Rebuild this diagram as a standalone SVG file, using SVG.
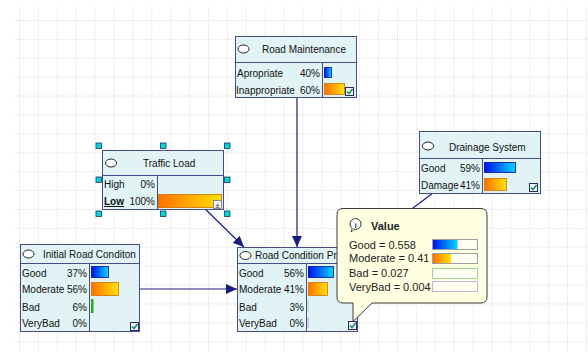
<svg xmlns="http://www.w3.org/2000/svg" width="588" height="352" viewBox="0 0 588 352">
<defs>
<pattern id="grid" width="18.9" height="18.9" patternUnits="userSpaceOnUse" x="19" y="20">
<path d="M0,0.5 H18.9 M0.5,0 V18.9" stroke="#e0e0e0" stroke-width="1" stroke-dasharray="1 1" fill="none"/>
</pattern>
<linearGradient id="blue" x1="0" y1="0" x2="1" y2="0"><stop offset="0" stop-color="#0010ee"/><stop offset="1" stop-color="#00d8ff"/></linearGradient>
<linearGradient id="orange" x1="0" y1="0" x2="1" y2="0"><stop offset="0" stop-color="#ff7000"/><stop offset="1" stop-color="#ffe400"/></linearGradient>
<marker id="arr" markerWidth="12" markerHeight="10" refX="11" refY="5" orient="auto" markerUnits="userSpaceOnUse"><path d="M0,0 L11,5 L0,10 z" fill="#1c1c80"/></marker>
<g id="chk"><rect x="0.5" y="0.5" width="8" height="8" fill="#eef4ff" stroke="#2a2a60"/><path d="M2,4.5 L4,6.5 L7.5,2" stroke="#169060" stroke-width="1.6" fill="none"/></g>
<clipPath id="rcclip"><rect x="237" y="247" width="100" height="16"/></clipPath>
</defs>
<style>
.box{fill:#e2f3f6;stroke:#4a4a88;stroke-width:1}
.ln{stroke:#4a4a88;stroke-width:1}
.t{font-family:"Liberation Sans",Arial,sans-serif;font-size:10px;fill:#111}
.r{text-anchor:end}
.tt{font-family:"Liberation Sans",Arial,sans-serif;font-size:11px;fill:#222}
.el{fill:#fff;stroke:#222;stroke-width:1}
.bb{fill:url(#blue);stroke:#0a0aa0;stroke-width:0.8}
.ob{fill:url(#orange);stroke:#d07000;stroke-width:0.8}
.conn{stroke:#1c1c80;stroke-width:1.2;fill:none}
.h{fill:#00d4dc;stroke:#1a3a5a;stroke-width:0.8}
</style>
<rect x="0" y="0" width="588" height="352" fill="#fff"/>
<rect x="14" y="6" width="574" height="346" fill="url(#grid)"/>

<g id="connectors">
<line class="conn" x1="297" y1="97" x2="297" y2="247" marker-end="url(#arr)"/>
<line class="conn" x1="199" y1="203" x2="244" y2="247" marker-end="url(#arr)"/>
<line class="conn" x1="139" y1="289" x2="237" y2="289" marker-end="url(#arr)"/>
<line class="conn" x1="433" y1="193" x2="357" y2="250" marker-end="url(#arr)"/>
</g>

<g id="road-maintenance">
<rect class="box" x="235.5" y="36.5" width="121" height="61"/>
<line class="ln" x1="235" y1="62.5" x2="357" y2="62.5"/>
<line class="ln" x1="322.5" y1="62" x2="322.5" y2="97"/>
<ellipse class="el" cx="243.5" cy="49" rx="5.5" ry="4"/>
<text class="t" x="262" y="52.5">Road Maintenance</text>
<text class="t" x="237" y="76.5">Apropriate</text><text class="t r" x="320" y="76.5">40%</text>
<text class="t" x="236" y="93.5">Inappropriate</text><text class="t r" x="320" y="93.5">60%</text>
<rect class="bb" x="324.5" y="67.5" width="7" height="10"/>
<rect class="ob" x="324.5" y="83.5" width="20" height="11"/>
<use href="#chk" x="345" y="87"/>
</g>

<g id="traffic-load">
<rect class="box" x="102.5" y="150.5" width="121" height="59"/>
<line class="ln" x1="102" y1="175.5" x2="224" y2="175.5"/>
<line class="ln" x1="157.5" y1="175" x2="157.5" y2="209"/>
<ellipse class="el" cx="111" cy="163" rx="5.5" ry="4"/>
<text class="t" x="143" y="166.5">Traffic Load</text>
<text class="t" x="104" y="188">High</text><text class="t r" x="155" y="188">0%</text>
<text class="t" x="104" y="205" font-weight="bold" text-decoration="underline">Low</text><text class="t r" x="155" y="205">100%</text>
<rect class="ob" x="158.5" y="194.5" width="63" height="13"/>
<rect x="213.5" y="200.5" width="8" height="8" fill="#f4f4f4" stroke="#777" stroke-width="0.8"/>
<text x="217.5" y="207.5" font-family="Liberation Sans,sans-serif" font-size="8" text-anchor="middle" fill="#333">±</text>
<rect class="h" x="96" y="143" width="5.5" height="5.5"/><rect class="h" x="160.5" y="143" width="5.5" height="5.5"/><rect class="h" x="224.5" y="143" width="5.5" height="5.5"/>
<rect class="h" x="96" y="177" width="5.5" height="5.5"/><rect class="h" x="224.5" y="177" width="5.5" height="5.5"/>
<rect class="h" x="96" y="211" width="5.5" height="5.5"/><rect class="h" x="160.5" y="211" width="5.5" height="5.5"/><rect class="h" x="224.5" y="211" width="5.5" height="5.5"/>
</g>

<g id="drainage-system">
<rect class="box" x="419.5" y="131.5" width="121" height="62"/>
<line class="ln" x1="419" y1="158.5" x2="541" y2="158.5"/>
<line class="ln" x1="482.5" y1="158" x2="482.5" y2="193"/>
<ellipse class="el" cx="428" cy="146" rx="5.5" ry="4"/>
<text class="t" x="449" y="151">Drainage System</text>
<text class="t" x="421" y="171.5">Good</text><text class="t r" x="480" y="171.5">59%</text>
<text class="t" x="421" y="189">Damage</text><text class="t r" x="480" y="189">41%</text>
<rect class="bb" x="484.5" y="162.5" width="31" height="10"/>
<rect class="ob" x="484.5" y="178.5" width="22" height="12"/>
<use href="#chk" x="529" y="183"/>
</g>

<g id="initial-road-condition">
<rect class="box" x="20.5" y="244.5" width="119" height="87"/>
<line class="ln" x1="20" y1="263.5" x2="140" y2="263.5"/>
<line class="ln" x1="89.5" y1="263" x2="89.5" y2="331"/>
<ellipse class="el" cx="28.5" cy="254" rx="5.5" ry="4"/>
<text class="t" x="43" y="257.5">Initial Road Conditon</text>
<text class="t" x="22" y="276.5">Good</text><text class="t r" x="87" y="276.5">37%</text>
<text class="t" x="22" y="293">Moderate</text><text class="t r" x="87" y="293">56%</text>
<text class="t" x="22" y="310.5">Bad</text><text class="t r" x="87" y="310.5">6%</text>
<text class="t" x="22" y="326.5">VeryBad</text><text class="t r" x="87" y="326.5">0%</text>
<rect class="bb" x="91.5" y="266.5" width="17" height="11"/>
<rect class="ob" x="91.5" y="282.5" width="27" height="13"/>
<rect x="91" y="299" width="2.5" height="14" fill="#20b020"/>
<use href="#chk" x="130" y="322"/>
</g>

<g id="road-condition-prediction">
<rect class="box" x="237.5" y="247.5" width="120" height="84"/>
<line class="ln" x1="237" y1="263.5" x2="358" y2="263.5"/>
<line class="ln" x1="306.5" y1="263" x2="306.5" y2="331"/>
<ellipse class="el" cx="245.5" cy="255.5" rx="5.5" ry="4"/>
<text class="t" x="255" y="259" clip-path="url(#rcclip)">Road Condition Pr</text>
<text class="t" x="239" y="276.5">Good</text><text class="t r" x="304" y="276.5">56%</text>
<text class="t" x="239" y="293">Moderate</text><text class="t r" x="304" y="293">41%</text>
<text class="t" x="239" y="310.5">Bad</text><text class="t r" x="304" y="310.5">3%</text>
<text class="t" x="239" y="326.5">VeryBad</text><text class="t r" x="304" y="326.5">0%</text>
<rect class="bb" x="308.5" y="266.5" width="25" height="11"/>
<rect class="ob" x="308.5" y="282.5" width="19" height="13"/>
<rect x="307.5" y="300" width="1.2" height="12" fill="#a8dca8"/>
<rect x="307.5" y="317" width="1.2" height="11" fill="#c8b0e0"/>
<use href="#chk" x="348" y="321"/>
</g>

<g id="value-tooltip">
<path d="M343,208.5 H481 Q487,208.5 487,214.5 V297 Q487,303 481,303 H372 L353,321.5 V303 H343 Q337,303 337,297 V214.5 Q337,208.5 343,208.5 Z" fill="#ffffe1" stroke="#3a3a3a" stroke-width="1"/>
<circle cx="355.5" cy="224" r="5.5" fill="#fff" stroke="#333" stroke-width="1"/>
<path d="M352,228.5 L351,232 L355,229" fill="#fff" stroke="#333" stroke-width="0.8"/>
<text x="355.5" y="227.5" font-family="Liberation Sans,sans-serif" font-size="8" font-weight="bold" text-anchor="middle" fill="#1a4aa0">i</text>
<text class="tt" x="371" y="229.5" font-weight="bold">Value</text>
<text class="tt" x="349" y="249">Good = 0.558</text>
<text class="tt" x="349" y="262">Moderate = 0.41</text>
<text class="tt" x="349" y="277">Bad = 0.027</text>
<text class="tt" x="349" y="290.5">VeryBad = 0.004</text>
<rect x="432.5" y="239.5" width="45" height="10" fill="#fffff4" stroke="#a0a0a0"/>
<rect x="433" y="240" width="24.5" height="9" fill="url(#blue)"/>
<rect x="432.5" y="253.5" width="45" height="10" fill="#fffff4" stroke="#a0a0a0"/>
<rect x="433" y="254" width="18" height="9" fill="url(#orange)"/>
<rect x="432.5" y="268.5" width="45" height="10" fill="#fffff4" stroke="#9cd49c"/>
<rect x="432.5" y="281.5" width="45" height="10" fill="#fffff4" stroke="#c4b0dc"/>
</g>
</svg>
